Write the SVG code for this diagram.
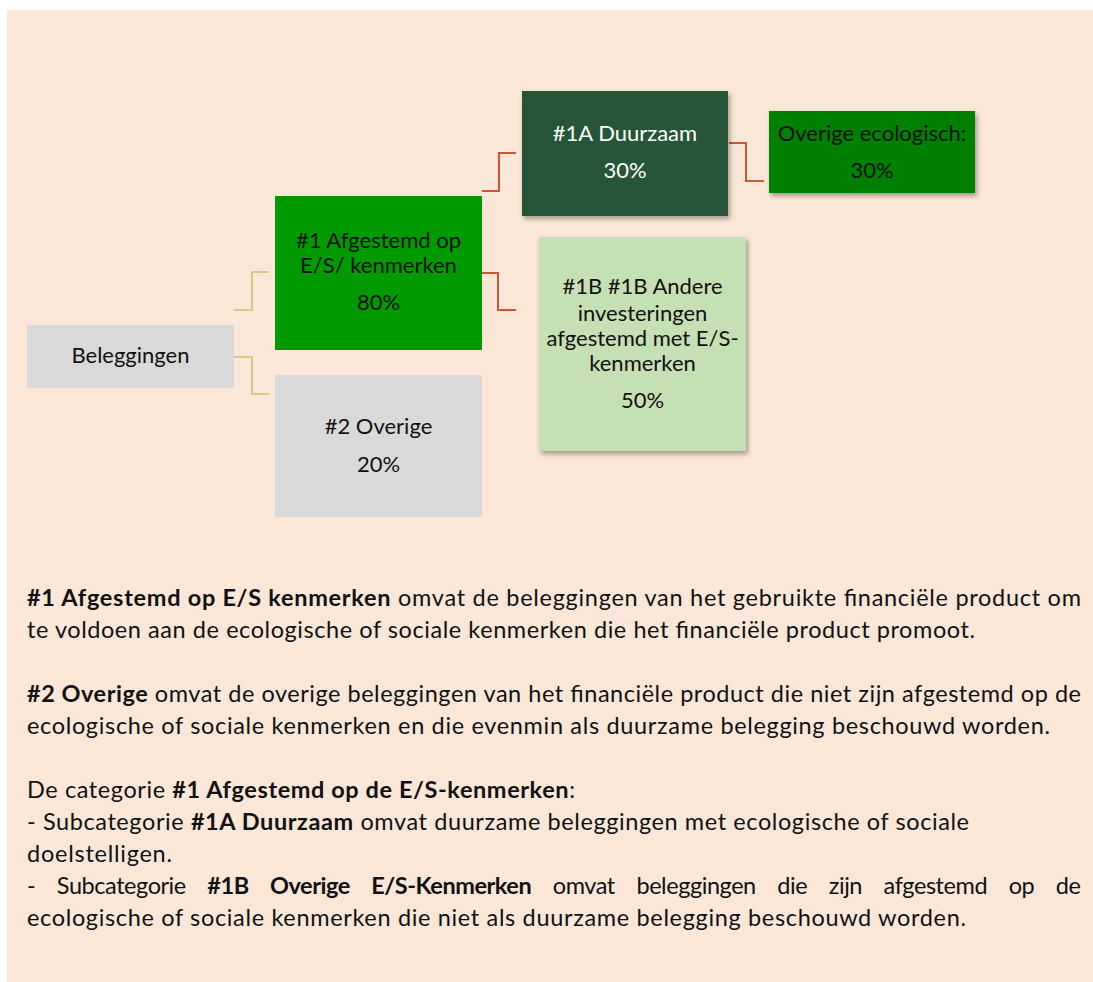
<svg xmlns="http://www.w3.org/2000/svg" width="1093" height="982" viewBox="0 0 1093 982">
<style>
.t{font-family:Lato,"Liberation Sans",sans-serif;font-size:23.5px;fill:#111}
.n{font-family:Lato,"Liberation Sans",sans-serif;font-size:22px;fill:#111;text-anchor:middle}
.w{fill:#ffffff}
.b{font-weight:bold}
.red{fill:none;stroke:#cc5533;stroke-width:2}
.olv{fill:none;stroke:#cdbf70;stroke-width:1.6}
</style>
<defs>
<filter id="sh" x="-10%" y="-10%" width="130%" height="130%">
<feDropShadow dx="2" dy="3" stdDeviation="2.5" flood-color="#000" flood-opacity="0.35"/>
</filter>
</defs>
<rect x="7" y="10" width="1086" height="972" fill="#fae7d7"/>
<g id="connectors">
<polyline class="olv" points="234,310 252,310 252,272 269,272"/>
<polyline class="olv" points="234,357 252,357 252,394 269,394"/>
<polyline class="red" points="482,191 499,191 499,153 516,153"/>
<polyline class="red" points="482,273 498,273 498,310 516,310"/>
<polyline class="red" points="729,143 746,143 746,181 764,181"/>
</g>
<g id="beleggingen">
<rect x="27" y="325" width="207" height="63" fill="#d9d9d9"/>
<text class="n" x="130.5" y="363">Beleggingen</text>
</g>
<g id="n1">
<rect x="275" y="196" width="207" height="154" fill="#009900"/>
<text class="n" x="378.5" y="248">#1 Afgestemd op</text>
<text class="n" x="378.5" y="273">E/S/ kenmerken</text>
<text class="n" x="378.5" y="310">80%</text>
</g>
<g id="n2">
<rect x="275" y="375" width="207" height="142" fill="#d9d9d9"/>
<text class="n" x="378.5" y="434">#2 Overige</text>
<text class="n" x="378.5" y="472">20%</text>
</g>
<g id="n1a">
<rect x="522" y="91" width="206" height="125" fill="#255439" filter="url(#sh)"/>
<text class="n w" x="625" y="141">#1A Duurzaam</text>
<text class="n w" x="625" y="178">30%</text>
</g>
<g id="n1a1">
<rect x="769" y="111" width="206" height="82" fill="#008000" filter="url(#sh)"/>
<text class="n" x="872" y="141">Overige ecologisch:</text>
<text class="n" x="872" y="178">30%</text>
</g>
<g id="n1b">
<rect x="539" y="237" width="207" height="214" fill="#c5e0b4" filter="url(#sh)"/>
<text class="n" x="642.5" y="294">#1B #1B Andere</text>
<text class="n" x="642.5" y="321">investeringen</text>
<text class="n" x="642.5" y="346">afgestemd met E/S-</text>
<text class="n" x="642.5" y="371">kenmerken</text>
<text class="n" x="642.5" y="408">50%</text>
</g>
<g id="legend">
<text class="t" x="27" y="606" textLength="1054" lengthAdjust="spacing"><tspan class="b">#1 Afgestemd op E/S kenmerken</tspan> omvat de beleggingen van het gebruikte financiële product om</text>
<text class="t" x="27" y="638" textLength="948" lengthAdjust="spacing">te voldoen aan de ecologische of sociale kenmerken die het financiële product promoot.</text>
<text class="t" x="27" y="702" textLength="1054" lengthAdjust="spacing"><tspan class="b">#2 Overige</tspan> omvat de overige beleggingen van het financiële product die niet zijn afgestemd op de</text>
<text class="t" x="27" y="734" textLength="1023" lengthAdjust="spacing">ecologische of sociale kenmerken en die evenmin als duurzame belegging beschouwd worden.</text>
<text class="t" x="27" y="798" textLength="548" lengthAdjust="spacing">De categorie <tspan class="b">#1 Afgestemd op de E/S-kenmerken</tspan>:</text>
<text class="t" x="27" y="830" textLength="942" lengthAdjust="spacing">- Subcategorie <tspan class="b">#1A Duurzaam</tspan> omvat duurzame beleggingen met ecologische of sociale</text>
<text class="t" x="27" y="862" textLength="145" lengthAdjust="spacing">doelstelligen.</text>
<text class="t" x="27" y="894" word-spacing="16" textLength="1054" lengthAdjust="spacing">- Subcategorie <tspan class="b">#1B Overige E/S-Kenmerken</tspan> omvat beleggingen die zijn afgestemd op de</text>
<text class="t" x="27" y="926" textLength="939" lengthAdjust="spacing">ecologische of sociale kenmerken die niet als duurzame belegging beschouwd worden.</text>
</g>
</svg>
